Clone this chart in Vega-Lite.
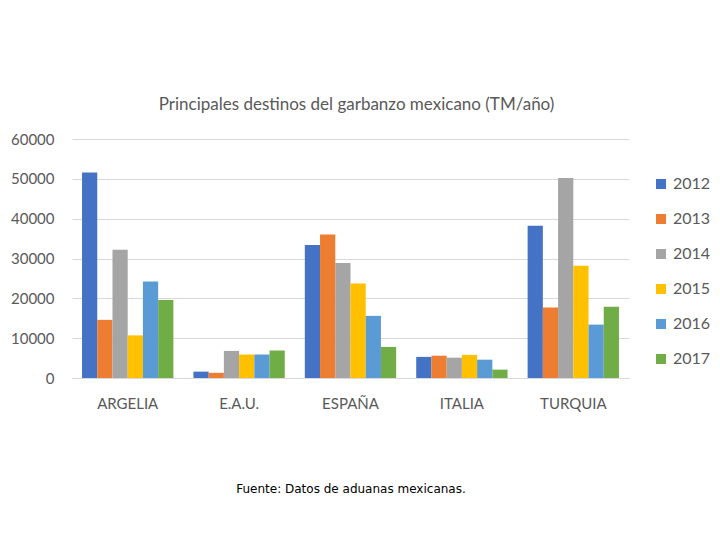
{
  "$schema": "https://vega.github.io/schema/vega-lite/v6.json",
  "width": 557,
  "height": 239,
  "padding": {"left": 10, "top": 96, "right": 5, "bottom": 5},
  "background": "white",
  "title": {
    "text": "Principales destinos del garbanzo mexicano (TM/año)",
    "font": "Lato",
    "fontSize": 17,
    "fontWeight": "normal",
    "color": "#595959",
    "anchor": "middle",
    "offset": 18,
    "dx": 6
  },
  "data": {
    "values": [
      {"pais": "ARGELIA", "anio": "2012", "tm": 51600},
      {"pais": "ARGELIA", "anio": "2013", "tm": 14600},
      {"pais": "ARGELIA", "anio": "2014", "tm": 32200},
      {"pais": "ARGELIA", "anio": "2015", "tm": 10700},
      {"pais": "ARGELIA", "anio": "2016", "tm": 24200},
      {"pais": "ARGELIA", "anio": "2017", "tm": 19600},
      {"pais": "E.A.U.", "anio": "2012", "tm": 1600},
      {"pais": "E.A.U.", "anio": "2013", "tm": 1300},
      {"pais": "E.A.U.", "anio": "2014", "tm": 6800},
      {"pais": "E.A.U.", "anio": "2015", "tm": 5900},
      {"pais": "E.A.U.", "anio": "2016", "tm": 5900},
      {"pais": "E.A.U.", "anio": "2017", "tm": 6900},
      {"pais": "ESPAÑA", "anio": "2012", "tm": 33400},
      {"pais": "ESPAÑA", "anio": "2013", "tm": 36000},
      {"pais": "ESPAÑA", "anio": "2014", "tm": 28900},
      {"pais": "ESPAÑA", "anio": "2015", "tm": 23700},
      {"pais": "ESPAÑA", "anio": "2016", "tm": 15600},
      {"pais": "ESPAÑA", "anio": "2017", "tm": 7800},
      {"pais": "ITALIA", "anio": "2012", "tm": 5300},
      {"pais": "ITALIA", "anio": "2013", "tm": 5600},
      {"pais": "ITALIA", "anio": "2014", "tm": 5100},
      {"pais": "ITALIA", "anio": "2015", "tm": 5800},
      {"pais": "ITALIA", "anio": "2016", "tm": 4600},
      {"pais": "ITALIA", "anio": "2017", "tm": 2100},
      {"pais": "TURQUIA", "anio": "2012", "tm": 38200},
      {"pais": "TURQUIA", "anio": "2013", "tm": 17700},
      {"pais": "TURQUIA", "anio": "2014", "tm": 50200},
      {"pais": "TURQUIA", "anio": "2015", "tm": 28200},
      {"pais": "TURQUIA", "anio": "2016", "tm": 13400},
      {"pais": "TURQUIA", "anio": "2017", "tm": 17900}
    ]
  },
  "mark": {"type": "bar"},
  "encoding": {
    "x": {
      "field": "pais",
      "type": "nominal",
      "sort": null,
      "scale": {"paddingInner": 0.18, "paddingOuter": 0.09},
      "axis": {
        "title": "Fuente: Datos de aduanas mexicanas.",
        "titleFont": "DejaVu Sans",
        "titleFontSize": 12,
        "titleFontWeight": "normal",
        "titleColor": "#000000",
        "titlePadding": 72,
        "labelAngle": 0,
        "labelFont": "Lato",
        "labelFontSize": 15,
        "labelColor": "#595959",
        "labelPadding": 18,
        "ticks": false,
        "domainColor": "#d9d9d9",
        "grid": false
      }
    },
    "xOffset": {"field": "anio", "type": "nominal", "scale": {"paddingInner": 0, "paddingOuter": 0}},
    "y": {
      "field": "tm",
      "type": "quantitative",
      "scale": {"domain": [0, 60000]},
      "axis": {
        "title": null,
        "values": [0, 10000, 20000, 30000, 40000, 50000, 60000],
        "format": "d",
        "labelFont": "Lato",
        "labelFontSize": 15,
        "labelColor": "#595959",
        "labelPadding": 18,
        "ticks": false,
        "domain": false,
        "gridColor": "#d9d9d9"
      }
    },
    "color": {
      "field": "anio",
      "type": "nominal",
      "scale": {
        "domain": ["2012", "2013", "2014", "2015", "2016", "2017"],
        "range": ["#4472C4", "#ED7D31", "#A5A5A5", "#FFC000", "#5B9BD5", "#70AD47"]
      },
      "legend": {
        "title": null,
        "orient": "none",
        "legendX": 581,
        "legendY": 37,
        "symbolType": "square",
        "symbolSize": 100,
        "symbolStrokeWidth": 0,
        "labelFont": "Lato",
        "labelFontSize": 16,
        "labelColor": "#595959",
        "labelOffset": 4,
        "rowPadding": 19
      }
    }
  },
  "config": {
    "view": {"stroke": null}
  }
}
